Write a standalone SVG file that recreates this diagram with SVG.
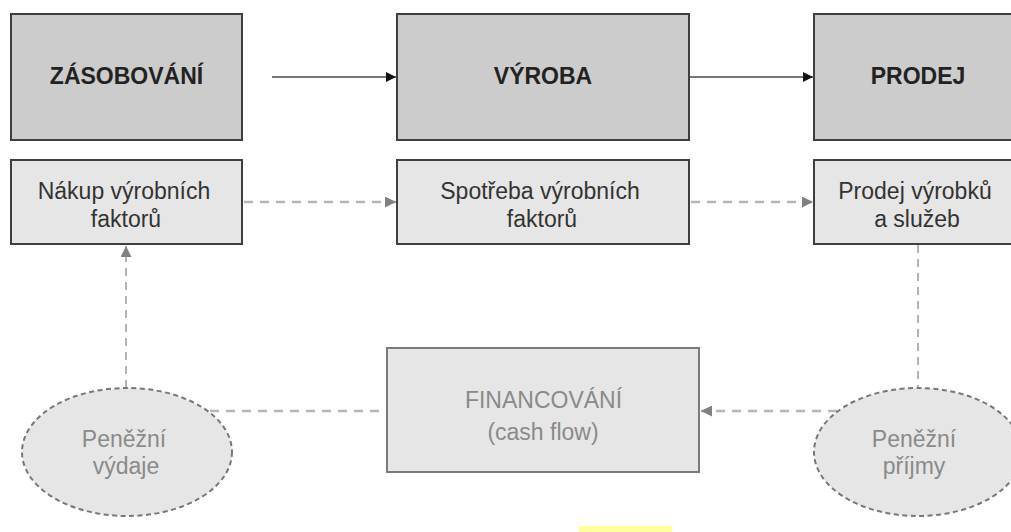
<svg xmlns="http://www.w3.org/2000/svg" width="1011" height="532" viewBox="0 0 1011 532">
  <style>
    .main { fill: #cccccc; stroke: #3f3f3f; stroke-width: 2; }
    .sub { fill: #e6e6e6; stroke: #3f3f3f; stroke-width: 2; }
    .fin { fill: #e6e6e6; stroke: #7a7a7a; stroke-width: 2; }
    .money { fill: #e6e6e6; stroke: #777777; stroke-width: 2; stroke-dasharray: 5 3.5; }
    .t-main { font-family: "Liberation Sans", Arial, sans-serif; font-size: 23px; font-weight: bold; fill: #222222; text-anchor: middle; }
    .t-sub { font-family: "Liberation Sans", Arial, sans-serif; font-size: 23px; fill: #333333; text-anchor: middle; }
    .t-grey { font-family: "Liberation Sans", Arial, sans-serif; font-size: 23px; fill: #8a8a8a; text-anchor: middle; }
    .solid { stroke: #4a4a4a; stroke-width: 1.5; fill: none; }
    .dash-h { stroke: #b5b5b5; stroke-width: 2.5; stroke-dasharray: 9 7; fill: none; }
    .dash-v { stroke: #9a9a9a; stroke-width: 1.5; stroke-dasharray: 8 6; fill: none; }
  </style>
  <defs>
    <marker id="arrow-solid" viewBox="0 0 10 10" refX="10" refY="5" markerWidth="10" markerHeight="10" markerUnits="userSpaceOnUse" orient="auto">
      <path d="M0,0 L10,5 L0,10 z" fill="#111111"/>
    </marker>
    <marker id="arrow-grey" viewBox="0 0 10 10" refX="10" refY="5" markerWidth="11" markerHeight="11" markerUnits="userSpaceOnUse" orient="auto">
      <path d="M0,0 L10,5 L0,10 z" fill="#808080"/>
    </marker>
  </defs>

  <rect width="1011" height="532" fill="#ffffff"/>

  <!-- connectors -->
  <g id="connectors">
    <line class="solid" x1="272" y1="77" x2="396" y2="77" marker-end="url(#arrow-solid)"/>
    <line class="solid" x1="689" y1="77" x2="813" y2="77" marker-end="url(#arrow-solid)"/>
    <line class="dash-h" x1="244" y1="202" x2="396" y2="202" marker-end="url(#arrow-grey)"/>
    <line class="dash-h" x1="691" y1="202" x2="813" y2="202" marker-end="url(#arrow-grey)"/>
    <line class="dash-v" x1="918" y1="245" x2="918" y2="388"/>
    <line class="dash-h" x1="837" y1="411" x2="701" y2="411" marker-end="url(#arrow-grey)"/>
    <line class="dash-h" x1="210" y1="411" x2="380" y2="411"/>
    <line class="dash-v" x1="126" y1="388" x2="126" y2="246" marker-end="url(#arrow-grey)"/>
  </g>

  <!-- top row: business functions -->
  <g id="zasobovani">
    <rect class="main" x="11" y="14" width="231" height="126"/>
    <text class="t-main" x="126.5" y="84">ZÁSOBOVÁNÍ</text>
  </g>
  <g id="vyroba">
    <rect class="main" x="397" y="14" width="292" height="126"/>
    <text class="t-main" x="543" y="84">VÝROBA</text>
  </g>
  <g id="prodej">
    <rect class="main" x="814" y="14" width="210" height="126"/>
    <text class="t-main" x="918" y="84">PRODEJ</text>
  </g>

  <!-- second row: flows of goods -->
  <g id="nakup">
    <rect class="sub" x="11" y="160" width="231" height="84"/>
    <text class="t-sub" x="124" y="199">Nákup výrobních</text>
    <text class="t-sub" x="126" y="227">faktorů</text>
  </g>
  <g id="spotreba">
    <rect class="sub" x="397" y="160" width="292" height="84"/>
    <text class="t-sub" x="540" y="199">Spotřeba výrobních</text>
    <text class="t-sub" x="542" y="227">faktorů</text>
  </g>
  <g id="prodej-vyrobku">
    <rect class="sub" x="814" y="160" width="210" height="84"/>
    <text class="t-sub" x="915" y="199">Prodej výrobků</text>
    <text class="t-sub" x="917" y="227">a služeb</text>
  </g>

  <!-- financing -->
  <g id="financovani">
    <rect class="fin" x="387" y="348" width="312" height="124"/>
    <text class="t-grey" x="543.5" y="408">FINANCOVÁNÍ</text>
    <text class="t-grey" x="543" y="440">(cash flow)</text>
  </g>
  <g id="vydaje">
    <ellipse class="money" cx="127" cy="452" rx="105" ry="64"/>
    <text class="t-grey" x="124" y="447">Peněžní</text>
    <text class="t-grey" x="126" y="474">výdaje</text>
  </g>
  <g id="prijmy">
    <ellipse class="money" cx="918" cy="452" rx="104" ry="64"/>
    <text class="t-grey" x="914" y="447">Peněžní</text>
    <text class="t-grey" x="914" y="474">příjmy</text>
  </g>

  <!-- highlight strip along the bottom edge -->
  <rect x="579" y="526" width="93" height="6" fill="#ffff9e"/>
</svg>
